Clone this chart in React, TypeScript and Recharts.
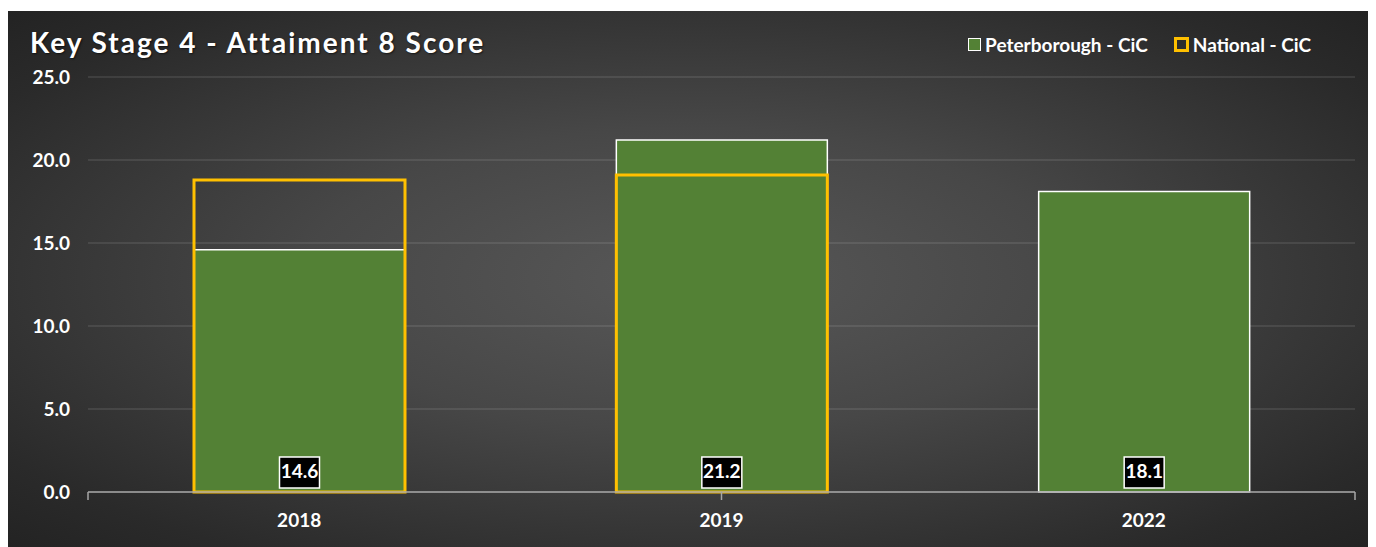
import React from "react";
import {
  Bar,
  CartesianGrid,
  ComposedChart,
  LabelList,
  XAxis,
  YAxis,
} from "recharts";

const years = ["2018", "2019", "2022"];
const peterborough = [14.6, 21.2, 18.1];
const national = [18.8, 19.1, null];
const yTicks = [0, 5, 10, 15, 20, 25];
const boundaryTicks = [0, 1, 2, 3];

const GREEN = "#538135";
const GOLD = "#FFC000";
const FONT = "Lato, 'Open Sans', sans-serif";

const data = years.map((year, i) => ({
  year,
  peterborough: peterborough[i],
  national: national[i],
}));

const W = 1363;
const H = 536;

// White-bordered black value box sitting at the foot of each bar
function ValueBox(props: any) {
  const { x, y, width, height, value } = props;
  if (value == null) return null;
  const cx = x + width / 2;
  const bottom = y + height;
  const bw = 40;
  const bh = 31;
  const top = bottom - 4 - bh;
  return (
    <g>
      <rect x={cx - bw / 2} y={top} width={bw} height={bh} fill="#000" stroke="#fff" strokeWidth={1.5} />
      <text
        x={cx}
        y={top + bh / 2 + 1}
        textAnchor="middle"
        dominantBaseline="middle"
        fill="#fff"
        fontFamily={FONT}
        fontWeight={700}
        fontSize={19}
      >
        {Number(value).toFixed(1)}
      </text>
    </g>
  );
}

function LegendItem({ color, hollow, label }: { color: string; hollow?: boolean; label: string }) {
  return (
    <span style={{ display: "inline-flex", alignItems: "center", marginLeft: 26 }}>
      <span
        style={{
          display: "inline-block",
          width: hollow ? 9 : 11,
          height: hollow ? 9 : 11,
          background: hollow ? "transparent" : color,
          border: hollow ? `3px solid ${color}` : "1.5px solid #fff",
          marginRight: 4,
        }}
      />
      {label}
    </span>
  );
}

export default function App() {
  return (
    <div
      style={{
        position: "relative",
        width: W,
        height: H,
        marginTop: 3,
        background: "radial-gradient(ellipse at 50% 50%, #585858 0%, #474747 40%, #2a2a2a 85%, #232323 100%)",
        fontFamily: FONT,
        overflow: "hidden",
      }}
    >
      <div
        style={{
          position: "absolute",
          left: 22,
          top: 14,
          color: "#fff",
          fontSize: 28,
          fontWeight: 700,
          letterSpacing: 2,
          textShadow: "1px 1px 2px rgba(0,0,0,0.6)",
        }}
      >
        Key Stage 4 - Attaiment 8 Score
      </div>
      <div
        style={{
          position: "absolute",
          right: 60,
          top: 22,
          color: "#fff",
          fontSize: 19,
          fontWeight: 700,
          display: "flex",
        }}
      >
        <LegendItem color={GREEN} label="Peterborough - CiC" />
        <LegendItem color={GOLD} hollow label="National - CiC" />
      </div>
      <ComposedChart
        width={W}
        height={H}
        data={data}
        margin={{ top: 66, right: 16, left: 0, bottom: 15 }}
        style={{ position: "absolute", left: 0, top: 0 }}
      >
        <CartesianGrid xAxisId="cat" vertical={false} stroke="rgba(255,255,255,0.12)" strokeWidth={1.5} />
        {/* baseline with tick marks at the category boundaries */}
        <XAxis
          xAxisId="base"
          type="number"
          domain={[0, 3]}
          ticks={boundaryTicks}
          tickFormatter={() => ""}
          height={1}
          stroke="#a6a6a6"
          strokeWidth={1.5}
          tickLine={{ stroke: "#a6a6a6", strokeWidth: 1.5 }}
          tickSize={8}
          allowDataOverflow
        />
        <XAxis
          xAxisId="cat"
          dataKey="year"
          axisLine={false}
          tickLine={false}
          height={39}
          tickMargin={15}
          tick={{ fill: "#fff", fontSize: 19, fontWeight: 700, fontFamily: FONT }}
        />
        <XAxis xAxisId="nat" dataKey="year" hide />
        <YAxis
          domain={[0, 25]}
          ticks={yTicks}
          width={80}
          axisLine={false}
          tickLine={false}
          tickMargin={12}
          tickFormatter={(v: number) => v.toFixed(1)}
          tick={{ fill: "#fff", fontSize: 19, fontWeight: 700, fontFamily: FONT }}
        />
        <Bar
          xAxisId="cat"
          dataKey="peterborough"
          fill={GREEN}
          stroke="#fff"
          strokeWidth={1.5}
          barSize={211}
          isAnimationActive={false}
        >
          <LabelList dataKey="peterborough" content={<ValueBox />} />
        </Bar>
        <Bar
          xAxisId="nat"
          dataKey="national"
          fill="none"
          stroke={GOLD}
          strokeWidth={3}
          barSize={211}
          isAnimationActive={false}
        />
      </ComposedChart>
    </div>
  );
}
